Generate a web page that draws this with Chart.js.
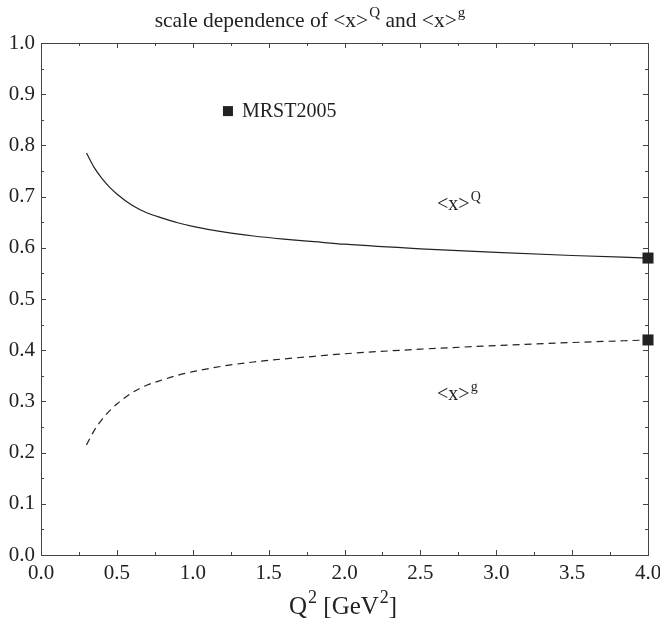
<!DOCTYPE html>
<html>
<head>
<meta charset="utf-8">
<script src="https://cdn.jsdelivr.net/npm/chart.js@4/dist/chart.umd.min.js"></script>
<style>
html,body{margin:0;padding:0;background:#fff;}
#wrap{width:660px;height:629px;}
</style>
</head>
<body>
<div id="wrap"><canvas id="chart" width="660" height="629"></canvas></div>
<script>

// Q^2 values in GeV^2
const q2 =
[0.3,0.35,0.4,0.45,0.5,0.6,0.7,0.8,0.9,1.0,1.2,1.4,1.6,1.8,2.0,2.5,3.0,3.5,4.0];

// quark momentum fraction <x>^Q
const xQuark =
[0.785,0.757,0.736,0.719,0.705,0.683,0.668,0.658,0.649,0.642,0.631,0.623,0.617,0.612,0.607,0.598,0.591,0.585,0.580];

// gluon momentum fraction <x>^g
const xGluon =
[0.215,0.243,0.264,0.281,0.295,0.317,0.332,0.342,0.351,0.358,0.369,0.377,0.383,0.388,0.393,0.402,0.409,0.415,0.420];

// MRST2005 reference points
const mrstQ2 = [4.0,4.0];
const mrstX = [0.58,0.42];

const xTicks = [0,0.5,1,1.5,2,2.5,3,3.5,4];
const yTicks = [0,0.1,0.2,0.3,0.4,0.5,0.6,0.7,0.8,0.9,1.0];

const serif = "'Liberation Serif','DejaVu Serif',serif";
const ink = "#222";

function toPoints(xs,ys){

return xs.map((x,i)=>({x:x,y:ys[i]}));

}

function drawSup(ctx,base,sup,x,y,size,align){

ctx.font = size+"px "+serif;
const w1 = ctx.measureText(base).width;
ctx.font = Math.round(size*0.72)+"px "+serif;
const w2 = ctx.measureText(sup).width;
const total = w1+1+w2;
let left = x;
if(align==="center") left = x-total/2;
ctx.textAlign = "left";
ctx.textBaseline = "alphabetic";
ctx.font = size+"px "+serif;
ctx.fillText(base,left,y);
ctx.font = Math.round(size*0.72)+"px "+serif;
ctx.fillText(sup,left+w1+1,y-size*0.45);
return left+total;

}

function drawTitle(ctx){

const size = 21.5;
const parts = [
["scale dependence of <x>","Q"],
[" and <x>","g"]
];
let total = 0;
parts.forEach(p=>{
ctx.font = size+"px "+serif;
total += ctx.measureText(p[0]).width+1;
ctx.font = Math.round(size*0.72)+"px "+serif;
total += ctx.measureText(p[1]).width;
});
let x = 310-total/2;
parts.forEach(p=>{
x = drawSup(ctx,p[0],p[1],x,27,size,"left");
});

}

const framePlugin = {

id:"frame",

beforeDatasetsDraw(chart){

const ctx = chart.ctx;
const area = chart.chartArea;
const sx = chart.scales.x;
const sy = chart.scales.y;

ctx.save();
ctx.strokeStyle = "#444";
ctx.lineWidth = 1;
ctx.strokeRect(area.left+0.5,area.top+0.5,area.right-area.left,area.bottom-area.top);

ctx.beginPath();
for(let v=0; v<=4.0001; v+=0.25){
const px = Math.round(sx.getPixelForValue(v))+0.5;
const len = (Math.abs(v*2-Math.round(v*2))<1e-6) ? 5 : 3;
ctx.moveTo(px,area.bottom);
ctx.lineTo(px,area.bottom-len);
ctx.moveTo(px,area.top);
ctx.lineTo(px,area.top+len);
}
for(let v=0; v<=1.0001; v+=0.05){
const py = Math.round(sy.getPixelForValue(v))+0.5;
const len = (Math.abs(v*10-Math.round(v*10))<1e-6) ? 5 : 3;
ctx.moveTo(area.left,py);
ctx.lineTo(area.left+len,py);
ctx.moveTo(area.right,py);
ctx.lineTo(area.right-len,py);
}
ctx.stroke();
ctx.restore();

},

afterDraw(chart){

const ctx = chart.ctx;
const sx = chart.scales.x;
const sy = chart.scales.y;

ctx.save();
ctx.fillStyle = ink;

drawTitle(ctx);

// x axis title
let end = drawSup(ctx,"Q","2",289,614,25,"left");
end = drawSup(ctx," [GeV","2",end,614,25,"left");
ctx.font = "25px "+serif;
ctx.fillText("]",end,614);

// curve labels
drawSup(ctx,"<x>","Q",sx.getPixelForValue(2.61),sy.getPixelForValue(0.674),20,"left");
drawSup(ctx,"<x>","g",sx.getPixelForValue(2.61),sy.getPixelForValue(0.303),20,"left");

// legend
const lx = sx.getPixelForValue(1.232);
const ly = sy.getPixelForValue(0.867);
ctx.fillRect(lx-5,ly-5,10,10);
ctx.font = "20px "+serif;
ctx.textAlign = "left";
ctx.textBaseline = "middle";
ctx.fillText("MRST2005",lx+14,ly+1);

ctx.restore();

}

};

new Chart(

document.getElementById("chart"),

{

type:"line",

data:{

datasets:[

{
label:"<x>^Q",
data:toPoints(q2,xQuark),
borderColor:ink,
borderWidth:1.2,
pointRadius:0,
cubicInterpolationMode:"monotone",
fill:false
},

{
label:"<x>^g",
data:toPoints(q2,xGluon),
borderColor:ink,
borderWidth:1.2,
borderDash:[7,5],
pointRadius:0,
cubicInterpolationMode:"monotone",
fill:false
},

{
label:"MRST2005",
data:toPoints(mrstQ2,mrstX),
showLine:false,
pointStyle:"rect",
pointRadius:7.8,
pointBackgroundColor:ink,
pointBorderColor:ink,
pointBorderWidth:0,
clip:false
}

]

},

options:{

responsive:false,
animation:false,
events:[],

layout:{
padding:{top:43,right:12,left:0,bottom:0}
},

plugins:{
legend:{display:false},
title:{display:false},
tooltip:{enabled:false}
},

scales:{

x:{
type:"linear",
min:0,
max:4,
afterFit(scale){
scale.height = 74;
scale.paddingLeft = 0;
scale.paddingRight = 0;
},
afterBuildTicks(scale){ scale.ticks = xTicks.map(v=>({value:v})); },
grid:{display:false,drawTicks:false},
border:{display:false},
ticks:{
color:ink,
padding:6,
maxRotation:0,
font:{family:serif,size:21},
callback:v=>v.toFixed(1)
}
},

y:{
type:"linear",
min:0,
max:1,
afterFit(scale){
scale.width = 41;
scale.paddingTop = 0;
scale.paddingBottom = 0;
},
afterBuildTicks(scale){ scale.ticks = yTicks.map(v=>({value:v})); },
grid:{display:false,drawTicks:false},
border:{display:false},
ticks:{
color:ink,
padding:6,
font:{family:serif,size:21},
callback:v=>v.toFixed(1)
}
}

}

},

plugins:[framePlugin]

}

);

</script>
</body>
</html>
